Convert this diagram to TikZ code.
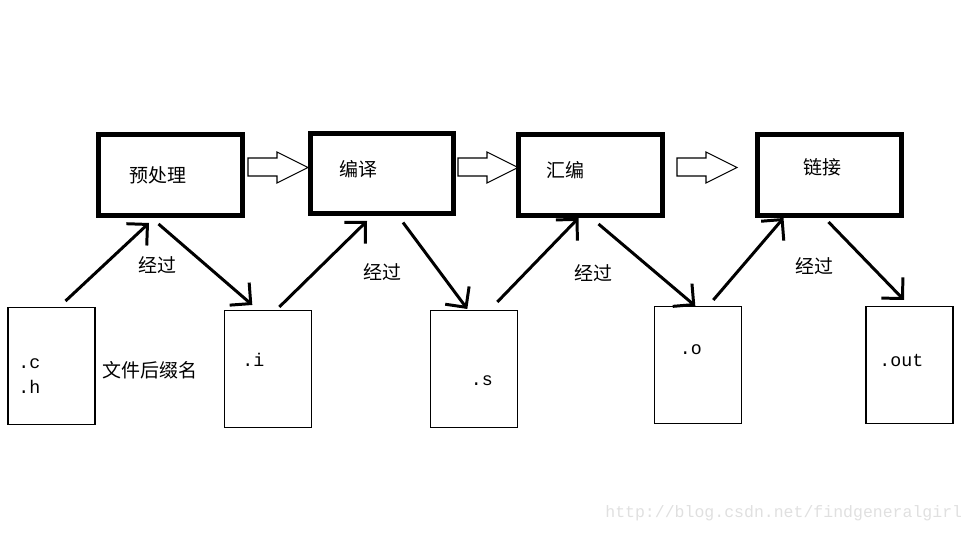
\documentclass[tikz,border=0pt]{standalone}
\usepackage{fontspec}
\usetikzlibrary{arrows.meta}
\newfontfamily\cjkfont{Noto Sans CJK SC}
\newfontfamily\extfont{Liberation Mono}

\begin{document}
\begin{tikzpicture}[x=0.02cm, y=-0.02cm,
    stagebox/.style={draw, line width=2.85pt, minimum width=2.88cm, minimum height=1.62cm, inner sep=0},
    filebox/.style={draw, line width=0.6pt, minimum width=1.74cm, minimum height=2.34cm, inner sep=0},
    hollow/.style={draw, line width=0.6pt, line join=miter},
    flow/.style={line width=1.7pt, -{Straight Barb[angle=90:12pt]}},
    cn/.style={font=\cjkfont\fontsize{10.8}{13}\selectfont, inner sep=0},
    ext/.style={font=\extfont\fontsize{10.4}{12}\selectfont, inner sep=0, anchor=base west}]
  \useasboundingbox (0,0) rectangle (976,533);
  \node[stagebox] (pp) at (170.5,175) {};
  \node[stagebox] (cc) at (382,173.5) {};
  \node[stagebox] (as) at (590.5,175) {};
  \node[stagebox] (ld) at (829.5,175) {};
  \node[cn] (pptext) at (158,175) {预处理};
  \node[cn] (cctext) at (358.7,169) {编译};
  \node[cn] (astext) at (565.3,170.3) {汇编};
  \node[cn] (ldtext) at (822.5,167.5) {链接};
  \foreach \x in {248,458,677}
    \draw[hollow] (\x,158) -- ++(29,0) -- ++(0,-6) -- ++(31,15.5) -- ++(-31,15.5) -- ++(0,-7) -- ++(-29,0) -- cycle;
  \node[filebox] (ch) at (51.5,366) {};
  \node[filebox] (fi) at (268.3,369) {};
  \node[filebox] (fs) at (474.3,369) {};
  \node[filebox] (fo) at (698.3,365) {};
  \node[filebox] (fout) at (909.5,365) {};
  \node[ext] (cext) at (18,368) {.c};
  \node[ext] (hext) at (18,393) {.h};
  \node[ext] (iext) at (242,366) {.i};
  \node[ext] (sext) at (470.5,385) {.s};
  \node[ext] (oext) at (679.5,354) {.o};
  \node[ext] (outext) at (879,366) {.out};
  \node[cn] (suffix) at (150.3,370.5) {文件后缀名};
  \node[cn] (via1) at (157.5,264.7) {经过};
  \node[cn] (via2) at (382,272.5) {经过};
  \node[cn] (via3) at (593,273) {经过};
  \node[cn] (via4) at (814,266) {经过};
  \draw[flow] ([shift={(14,-6)}]ch.north) -- ([shift={(-21.5,5)}]pp.south);
  \draw[flow] ([shift={(-12,6)}]pp.south) -- ([shift={(-16,-5)}]fi.north);
  \draw[flow] ([shift={(11,-3)}]fi.north) -- ([shift={(-15,4.5)}]cc.south);
  \draw[flow] ([shift={(21,6)}]cc.south) -- ([shift={(-7,-1)}]fs.north);
  \draw[flow] ([shift={(23,-8)}]fs.north) -- ([shift={(-12,0)}]as.south);
  \draw[flow] ([shift={(8,6)}]as.south) -- ([shift={(-3,0)}]fo.north);
  \draw[flow] ([shift={(15,-6)}]fo.north) -- ([shift={(-46,0)}]ld.south);
  \draw[flow] ([shift={(-1,4)}]ld.south) -- ([shift={(-5.5,-6)}]fout.north);
  \node[font=\extfont\fontsize{9.4}{11}\selectfont, text=black!12, inner sep=0, anchor=base west] (mark) at (605,517) {http://blog.csdn.net/findgeneralgirl};
\end{tikzpicture}
\end{document}
